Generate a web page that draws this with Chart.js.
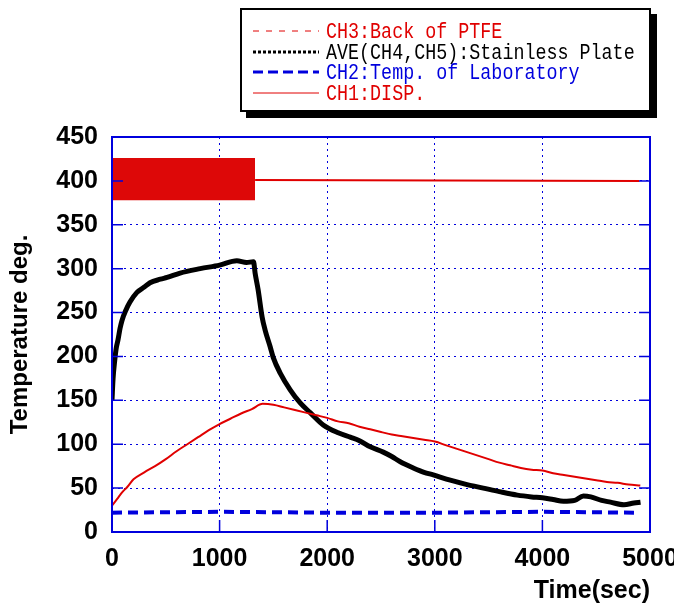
<!DOCTYPE html>
<html>
<head>
<meta charset="utf-8">
<script src="https://cdn.jsdelivr.net/npm/chart.js@4.4.1/dist/chart.umd.min.js"></script>
<style>
  html, body { margin: 0; padding: 0; background: #fff; }
  #wrap { width: 674px; height: 606px; }
</style>
</head>
<body>
<div id="wrap"><canvas id="chart" width="674" height="606"></canvas></div>
<script>
// Temperature history

// CH3: back of PTFE (thin red)
const ptfeTime = [0, 50, 74, 100, 140, 200, 300, 400, 500, 600, 700, 800, 900, 1000, 1100, 1200, 1300, 1400,
  1500, 1600, 1700, 1800, 1900, 2000, 2100, 2200, 2300, 2400, 2500, 2600, 2700, 2800, 2900, 3000,
  3100, 3200, 3300, 3400, 3500, 3600, 3700, 3800, 3900, 4000, 4100, 4200, 4300, 4400, 4500, 4600, 4700, 4800, 4910];
const ptfeTemp = [30, 38, 42, 46, 51, 60, 68, 75, 83, 92, 100, 108, 116, 123, 129, 135, 140, 146,
  145, 142, 139, 136, 133, 130, 126, 124, 120, 117, 114, 111, 109, 107, 105, 103,
  99, 95, 91, 87, 83, 79, 76, 73, 71, 70, 67, 65, 63, 61, 59, 57, 56, 54, 53];

// AVE(CH4,CH5): stainless plate (thick black)
const plateTime = [0, 10, 25, 40, 56, 75, 93, 130, 167, 232, 300, 353, 450, 512, 633, 820, 1000, 1160, 1250, 1315,
  1330, 1358, 1395, 1423, 1470, 1498, 1563, 1656, 1749, 1842, 1963, 2102, 2214, 2300, 2400, 2521, 2600,
  2679, 2800, 2900, 2986, 3144, 3300, 3451, 3600, 3767, 3900, 4000, 4100, 4195, 4300, 4381, 4450,
  4550, 4633, 4758, 4850, 4912];
const plateTemp = [150, 175, 195, 210, 219, 232, 241, 253, 262, 273, 279, 284, 288, 290, 295, 300, 304, 309, 307, 308,
  295, 276, 245, 230, 211, 199, 181, 162, 147, 136, 122, 113, 108, 104, 97, 91, 86,
  80, 73, 68, 65, 59, 54, 50, 46, 42, 40, 39, 37, 35, 36, 41, 40,
  36, 34, 31, 33, 34];

// CH2: laboratory (blue dashed)
const labTime = [0, 1000, 2000, 3000, 4000, 4900];
const labTemp = [22, 23, 22, 22, 23, 22];

// CH1: DISP, heater on (band) then steady
const dispBandTime = [0, 1330];
const dispBandHigh = [426, 426];
const dispBandLow = [378, 378];
const dispTime = [1330, 4900];
const dispTemp = [401, 400];

const xTicks = [0, 1000, 2000, 3000, 4000, 5000];
const yTicks = [0, 50, 100, 150, 200, 250, 300, 350, 400, 450];

const RED = '#e00000';
const BLUE = '#0000dd';
const SANS = "'Liberation Sans', Arial, sans-serif";
const MONO = "'Liberation Mono', 'DejaVu Sans Mono', monospace";

const pts = (xs, ys) => xs.map((x, i) => ({ x, y: ys[i] }));

// legend entries: label, colour, width, dash of the sample line
const legendItems = [
  { text: 'CH3:Back of PTFE', color: RED, width: 1, dash: [6, 7] },
  { text: 'AVE(CH4,CH5):Stainless Plate', color: '#000', width: 3, dash: [3, 2] },
  { text: 'CH2:Temp. of Laboratory', color: BLUE, width: 3, dash: [10, 5] },
  { text: 'CH1:DISP.', color: RED, width: 1, dash: [] }
];

const legendBox = {
  id: 'legendBox',
  afterDraw(chart){
    const ctx = chart.ctx;
    ctx.save();
    ctx.fillStyle = '#000';
    ctx.fillRect(246, 14, 411, 104);
    ctx.fillStyle = '#fff';
    ctx.fillRect(240, 8, 411, 104);
    ctx.strokeStyle = '#000';
    ctx.lineWidth = 2;
    ctx.strokeRect(241, 9, 409, 102);
    const rows = [31, 52, 72, 93];
    legendItems.forEach((it, i) => {
      const y = rows[i];
      ctx.beginPath();
      ctx.setLineDash(it.dash);
      ctx.strokeStyle = it.color;
      ctx.lineWidth = it.width;
      ctx.moveTo(253, y);
      ctx.lineTo(319, y);
      ctx.stroke();
      ctx.setLineDash([]);
      ctx.save();
      ctx.translate(326, y);
      ctx.scale(0.835, 1);
      ctx.fillStyle = it.color;
      ctx.font = '22px ' + MONO;
      ctx.textBaseline = 'middle';
      ctx.fillText(it.text, 0, 1);
      ctx.restore();
    });
    ctx.restore();
  }
};

// blue frame plus short inward ticks
const frame = {
  id: 'frame',
  afterDatasetsDraw(chart){
    const { ctx, chartArea: a, scales } = chart;
    ctx.save();
    ctx.strokeStyle = BLUE;
    ctx.lineWidth = 1.5;
    ctx.beginPath();
    yTicks.forEach(v => {
      const y = scales.y.getPixelForValue(v);
      ctx.moveTo(a.left, y); ctx.lineTo(a.left + 11, y);
      ctx.moveTo(a.right, y); ctx.lineTo(a.right - 11, y);
    });
    xTicks.forEach(v => {
      const x = scales.x.getPixelForValue(v);
      ctx.moveTo(x, a.bottom); ctx.lineTo(x, a.bottom - 12);
    });
    ctx.stroke();
    ctx.lineWidth = 2;
    ctx.strokeRect(a.left, a.top, a.right - a.left, a.bottom - a.top);
    ctx.restore();
  }
};

new Chart(document.getElementById('chart'), {
  type: 'line',
  data: {
    datasets: [
      { label: 'CH3:Back of PTFE', data: pts(ptfeTime, ptfeTemp), borderColor: RED, borderWidth: 2, pointRadius: 0, cubicInterpolationMode: 'monotone' },
      { label: 'AVE(CH4,CH5):Stainless Plate', data: pts(plateTime, plateTemp), borderColor: '#000', borderWidth: 5, pointRadius: 0, cubicInterpolationMode: 'monotone' },
      { label: 'CH2:Temp. of Laboratory', data: pts(labTime, labTemp), borderColor: BLUE, borderWidth: 4, borderDash: [10, 6], pointRadius: 0 },
      { label: 'CH1:DISP.', data: pts(dispTime, dispTemp), borderColor: RED, borderWidth: 2, pointRadius: 0 },
      { label: 'band high', data: pts(dispBandTime, dispBandHigh), borderColor: '#dd0808', borderWidth: 0, pointRadius: 0, fill: false },
      { label: 'band low', data: pts(dispBandTime, dispBandLow), borderColor: '#dd0808', borderWidth: 0, pointRadius: 0, fill: '-1', backgroundColor: '#dd0808' }
    ]
  },
  options: {
    responsive: false,
    animation: false,
    layout: { padding: { left: 0, right: 24, top: 137, bottom: 0 } },
    plugins: { legend: { display: false }, tooltip: { enabled: false } },
    scales: {
      x: {
        type: 'linear', min: 0, max: 5000,
        afterFit: s => { s.height = 74; s.paddingLeft = 0; s.paddingRight = 0; },
        afterBuildTicks: s => { s.ticks = xTicks.map(v => ({ value: v })); },
        grid: { color: BLUE, lineWidth: 1, drawTicks: false },
        border: { display: false, dash: [2, 4] },
        ticks: { color: '#000', padding: 12, maxRotation: 0, callback: v => String(v), font: { family: SANS, size: 25, weight: 'bold' } },
        title: { display: true, text: 'Time(sec)', align: 'end', color: '#000', padding: { top: 0, bottom: 0 }, font: { family: SANS, size: 25, weight: 'bold' } }
      },
      y: {
        min: 0, max: 450,
        afterFit: s => { s.width = 112; },
        afterBuildTicks: s => { s.ticks = yTicks.map(v => ({ value: v })); },
        grid: { color: BLUE, lineWidth: 1, drawTicks: false },
        border: { display: false, dash: [2, 4] },
        ticks: { color: '#000', padding: 14, font: { family: SANS, size: 25, weight: 'bold' } },
        title: { display: true, text: 'Temperature deg.', color: '#000', padding: { top: 6, bottom: 0 }, font: { family: SANS, size: 24, weight: 'bold' } }
      }
    }
  },
  plugins: [legendBox, frame]
});
</script>
</body>
</html>
